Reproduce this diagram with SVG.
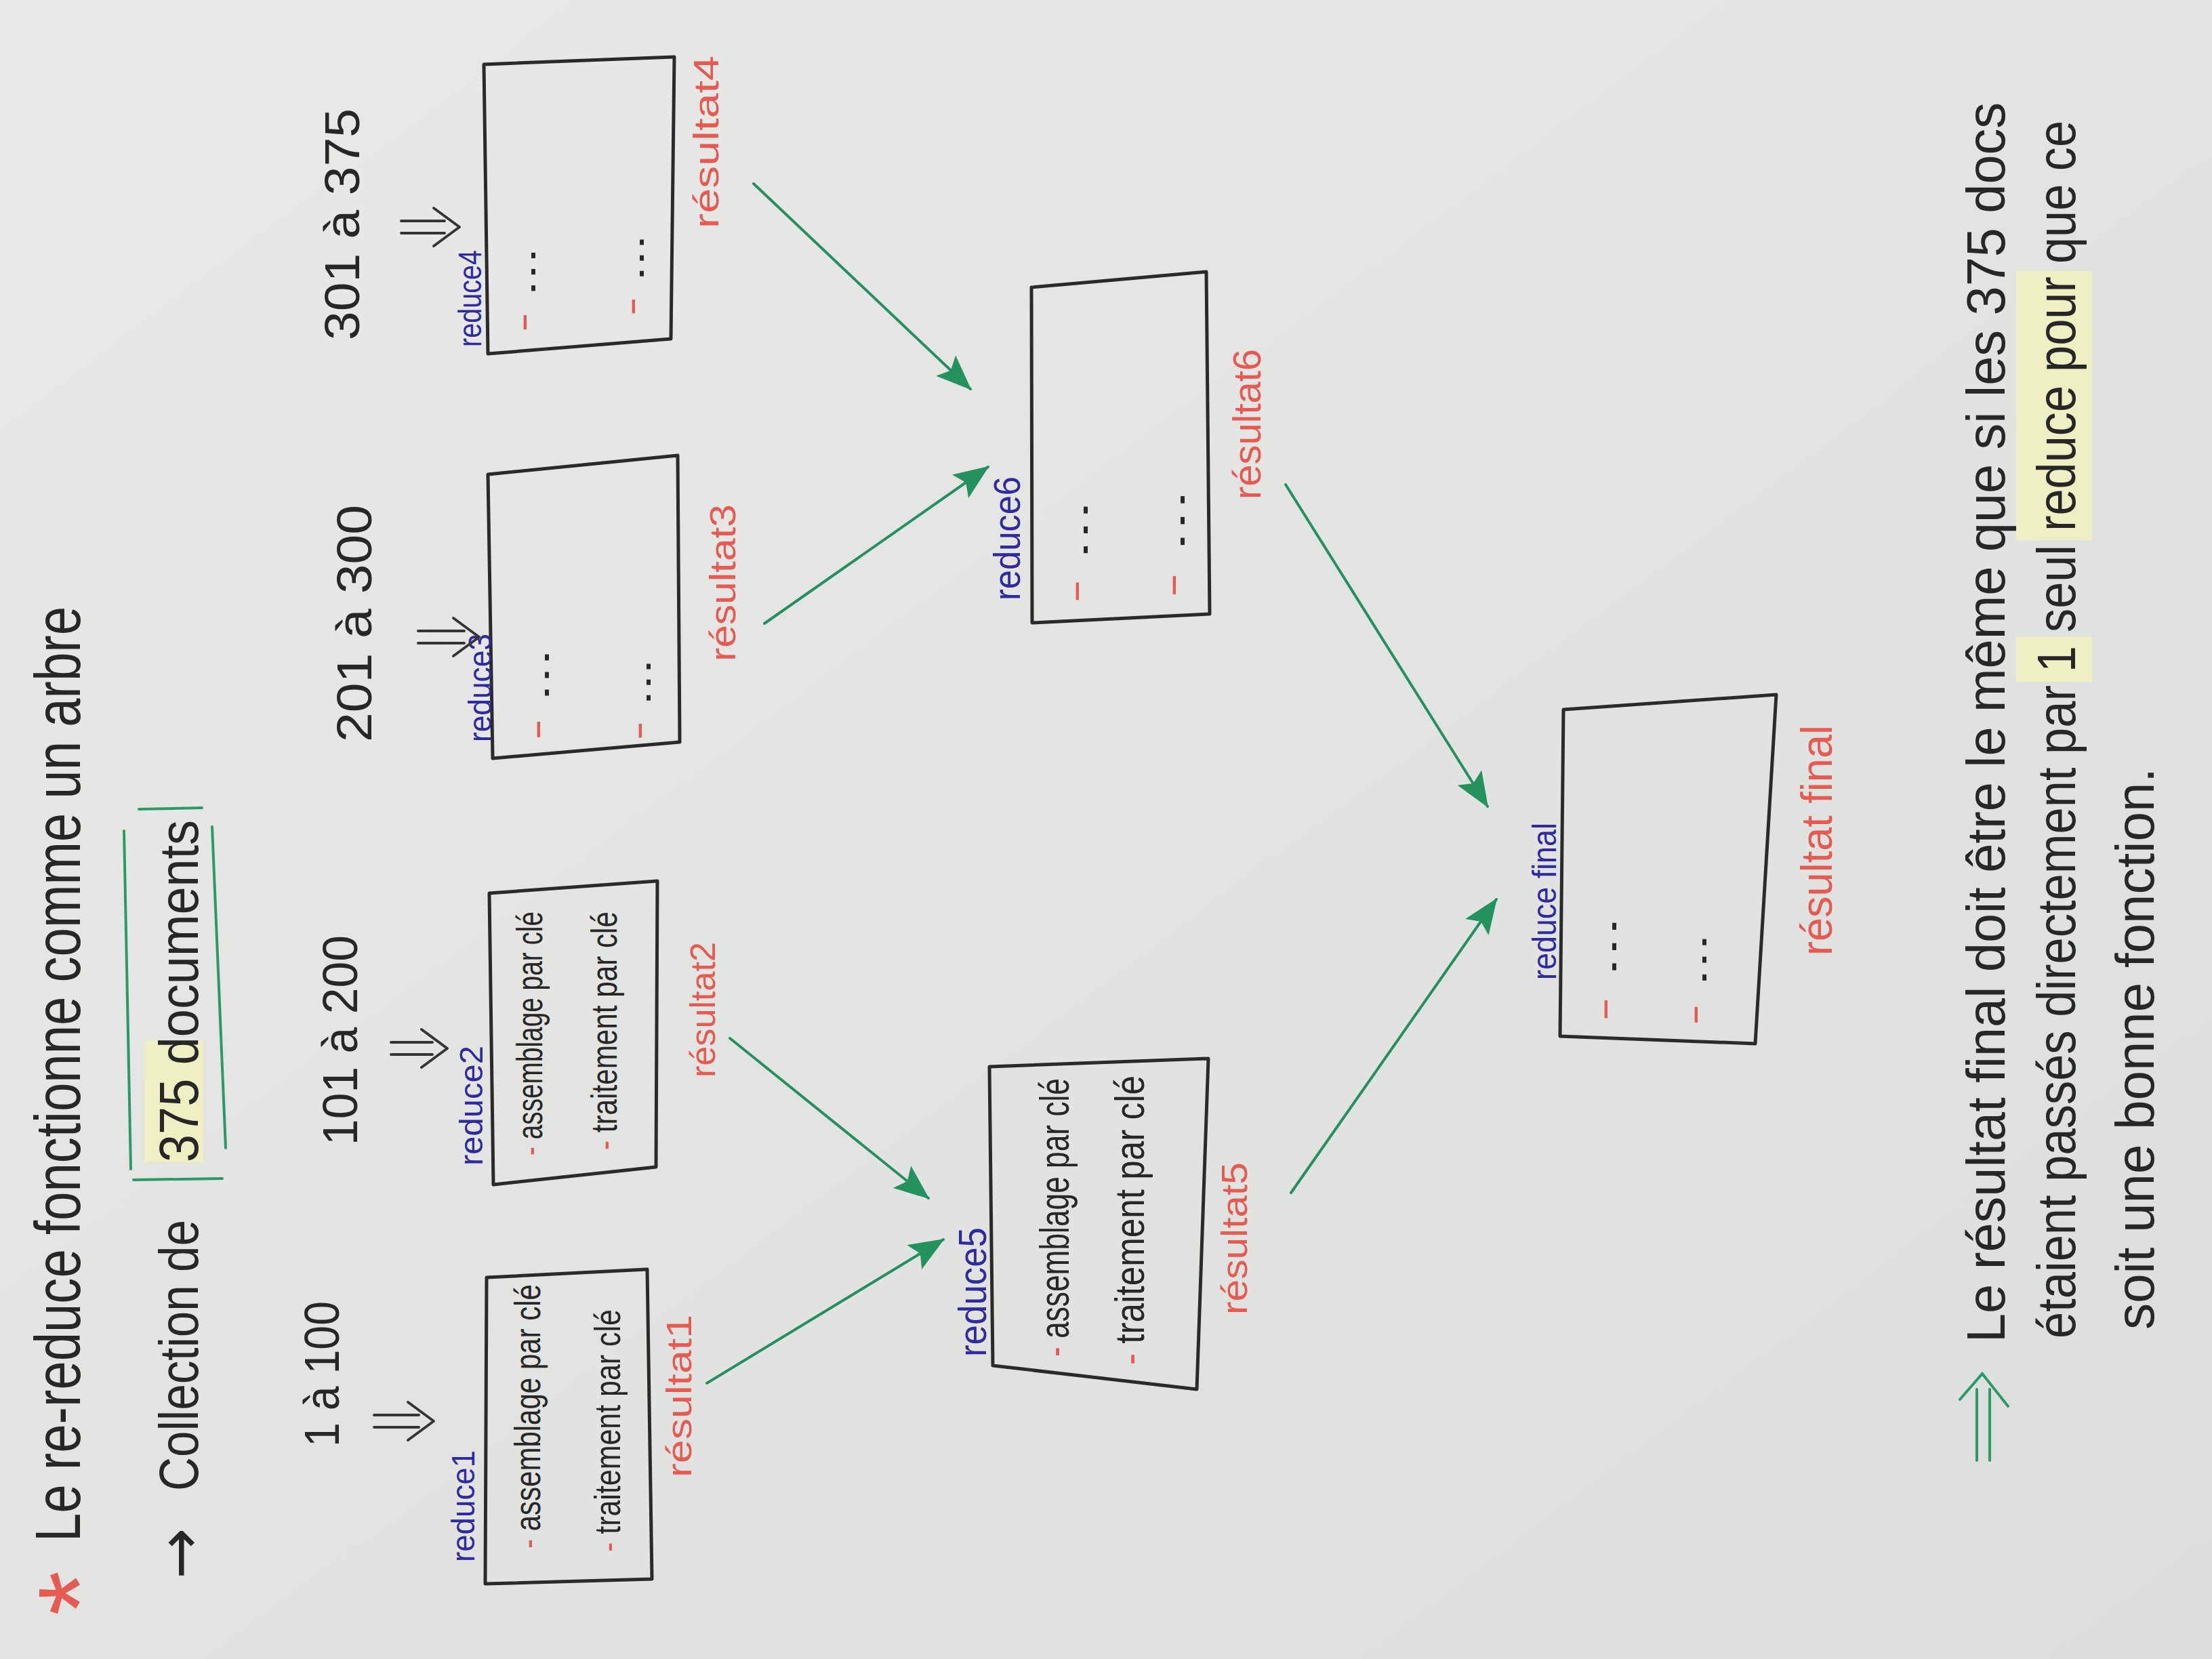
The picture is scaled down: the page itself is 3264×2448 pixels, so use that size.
<svg xmlns="http://www.w3.org/2000/svg" width="3264" height="2448" viewBox="0 0 3264 2448">
<defs>
<linearGradient id="paper" x1="0" y1="0" x2="1" y2="1">
<stop offset="0" stop-color="#e9eae8"/>
<stop offset="1" stop-color="#dcdedb"/>
</linearGradient>
<marker id="ah" markerUnits="userSpaceOnUse" markerWidth="56" markerHeight="44" refX="50" refY="21" orient="auto">
<path d="M0,0 L52,21 L0,42 L10,21 z" fill="#23925f"/>
</marker>
<style>
.t{font-family:"Liberation Sans",Arial,sans-serif;fill:#272727}
.blue{fill:#2f2aa0}
.red{fill:#e65a52}
.box{fill:none;stroke:#2a2a2a;stroke-width:5;stroke-linejoin:round}
.conn{stroke:#25905f;stroke-width:4;fill:none;stroke-linecap:round}
.dbl{stroke:#353535;stroke-width:4;fill:none;stroke-linecap:round;stroke-linejoin:round}
.grn{stroke:#2c9a68;stroke-width:4;fill:none;stroke-linecap:round}
.hl{fill:#eef0c4}
</style>
</defs>
<rect x="0" y="0" width="3264" height="2448" fill="url(#paper)"/>

<g id="title">
<text class="t red" font-size="170" text-anchor="middle" transform="translate(176,2351) rotate(-90)">*</text>
<text class="t" font-size="95" textLength="1380" lengthAdjust="spacingAndGlyphs" transform="translate(118,2275) rotate(-90)">Le re-reduce fonctionne comme un arbre</text>
</g>

<g id="collection">
<rect class="hl" x="213" y="1536" width="87" height="179"/>
<path class="grn" d="M205,1194 L298,1192 M183,1226 L193,1725 M197,1741 L328,1739 M313,1220 L333,1694"/>
<text class="t" font-size="90" style="font-family:'DejaVu Sans',sans-serif" transform="translate(296,2330) rotate(-90)">→</text>
<text class="t" font-size="82" textLength="400" lengthAdjust="spacingAndGlyphs" transform="translate(292,2200) rotate(-90)">Collection de</text>
<text class="t" font-size="82" textLength="505" lengthAdjust="spacingAndGlyphs" transform="translate(292,1715) rotate(-90)">375 documents</text>
</g>

<g id="range1"><text class="t" font-size="72" textLength="215" lengthAdjust="spacingAndGlyphs" transform="translate(500,2135) rotate(-90)">1 à 100</text></g>
<g id="range2"><text class="t" font-size="72" textLength="310" lengthAdjust="spacingAndGlyphs" transform="translate(527,1690) rotate(-90)">101 à 200</text></g>
<g id="range3"><text class="t" font-size="72" textLength="350" lengthAdjust="spacingAndGlyphs" transform="translate(548,1095) rotate(-90)">201 à 300</text></g>
<g id="range4"><text class="t" font-size="72" textLength="342" lengthAdjust="spacingAndGlyphs" transform="translate(530,502) rotate(-90)">301 à 375</text></g>

<g id="reduce1">
<path class="box" d="M718,1885 L955,1873 L962,2330 L716,2337 Z"/>
<text class="t blue" font-size="48" textLength="165" lengthAdjust="spacingAndGlyphs" transform="translate(700,2305) rotate(-90)">reduce1</text>
<text class="t" font-size="54" textLength="390" lengthAdjust="spacingAndGlyphs" transform="translate(797,2285) rotate(-90)"><tspan class="red">-</tspan> assemblage par clé</text>
<text class="t" font-size="54" textLength="358" lengthAdjust="spacingAndGlyphs" transform="translate(915,2290) rotate(-90)"><tspan class="red">-</tspan> traitement par clé</text>
<text class="t red" font-size="52" textLength="240" lengthAdjust="spacingAndGlyphs" transform="translate(1020,2180) rotate(-90)">résultat1</text>
</g>

<g id="reduce2">
<path class="box" d="M722,1318 L970,1300 L968,1722 L728,1748 Z"/>
<text class="t blue" font-size="48" textLength="177" lengthAdjust="spacingAndGlyphs" transform="translate(712,1720) rotate(-90)">reduce2</text>
<text class="t" font-size="54" textLength="360" lengthAdjust="spacingAndGlyphs" transform="translate(800,1705) rotate(-90)"><tspan class="red">-</tspan> assemblage par clé</text>
<text class="t" font-size="54" textLength="352" lengthAdjust="spacingAndGlyphs" transform="translate(910,1697) rotate(-90)"><tspan class="red">-</tspan> traitement par clé</text>
<text class="t red" font-size="52" textLength="200" lengthAdjust="spacingAndGlyphs" transform="translate(1055,1590) rotate(-90)">résultat2</text>
</g>

<g id="reduce3">
<path class="box" d="M720,700 L1000,672 L1003,1095 L727,1119 Z"/>
<text class="t blue" font-size="48" textLength="160" lengthAdjust="spacingAndGlyphs" transform="translate(725,1095) rotate(-90)">reduce3</text>
<text class="t" font-size="55" textLength="135" lengthAdjust="spacingAndGlyphs" transform="translate(810,1092) rotate(-90)"><tspan class="red">-</tspan> ...</text>
<text class="t" font-size="55" textLength="120" lengthAdjust="spacingAndGlyphs" transform="translate(960,1092) rotate(-90)"><tspan class="red">-</tspan> ...</text>
<text class="t red" font-size="54" textLength="232" lengthAdjust="spacingAndGlyphs" transform="translate(1085,976) rotate(-90)">résultat3</text>
</g>

<g id="reduce4">
<path class="box" d="M714,95 L995,84 L990,500 L720,522 Z"/>
<text class="t blue" font-size="48" textLength="143" lengthAdjust="spacingAndGlyphs" transform="translate(710,512) rotate(-90)">reduce4</text>
<text class="t" font-size="55" textLength="125" lengthAdjust="spacingAndGlyphs" transform="translate(790,490) rotate(-90)"><tspan class="red">-</tspan> ...</text>
<text class="t" font-size="55" textLength="120" lengthAdjust="spacingAndGlyphs" transform="translate(950,466) rotate(-90)"><tspan class="red">-</tspan> ...</text>
<text class="t red" font-size="52" textLength="255" lengthAdjust="spacingAndGlyphs" transform="translate(1060,337) rotate(-90)">résultat4</text>
</g>

<g id="reduce5">
<path class="box" d="M1460,1574 L1783,1562 L1766,2050 L1465,2015 Z"/>
<text class="t blue" font-size="58" textLength="191" lengthAdjust="spacingAndGlyphs" transform="translate(1455,2002) rotate(-90)">reduce5</text>
<text class="t" font-size="62" textLength="411" lengthAdjust="spacingAndGlyphs" transform="translate(1577,2002) rotate(-90)"><tspan class="red">-</tspan> assemblage par clé</text>
<text class="t" font-size="62" textLength="427" lengthAdjust="spacingAndGlyphs" transform="translate(1688,2014) rotate(-90)"><tspan class="red">-</tspan> traitement par clé</text>
<text class="t red" font-size="54" textLength="225" lengthAdjust="spacingAndGlyphs" transform="translate(1840,1940) rotate(-90)">résultat5</text>
</g>

<g id="reduce6">
<path class="box" d="M1522,424 L1780,401 L1785,906 L1523,919 Z"/>
<text class="t blue" font-size="55" textLength="183" lengthAdjust="spacingAndGlyphs" transform="translate(1505,886) rotate(-90)">reduce6</text>
<text class="t" font-size="55" textLength="152" lengthAdjust="spacingAndGlyphs" transform="translate(1605,890) rotate(-90)"><tspan class="red">-</tspan> ...</text>
<text class="t" font-size="55" textLength="160" lengthAdjust="spacingAndGlyphs" transform="translate(1748,882) rotate(-90)"><tspan class="red">-</tspan> ...</text>
<text class="t red" font-size="58" textLength="222" lengthAdjust="spacingAndGlyphs" transform="translate(1860,737) rotate(-90)">résultat6</text>
</g>

<g id="reducefinal">
<path class="box" d="M2307,1047 L2621,1025 L2590,1540 L2302,1529 Z"/>
<text class="t blue" font-size="50" textLength="232" lengthAdjust="spacingAndGlyphs" transform="translate(2296,1446) rotate(-90)">reduce final</text>
<text class="t" font-size="55" textLength="155" lengthAdjust="spacingAndGlyphs" transform="translate(2385,1507) rotate(-90)"><tspan class="red">-</tspan> ...</text>
<text class="t" font-size="55" textLength="136" lengthAdjust="spacingAndGlyphs" transform="translate(2518,1513) rotate(-90)"><tspan class="red">-</tspan> ...</text>
<text class="t red" font-size="64" textLength="340" lengthAdjust="spacingAndGlyphs" transform="translate(2703,1410) rotate(-90)">résultat final</text>
</g>

<g id="connectors">
<path class="dbl" d="M552,2088 L618,2088 M552,2106 L618,2106 M602,2069 L640,2097 L602,2125"/>
<path class="dbl" d="M577,1538 L638,1538 M577,1556 L638,1556 M622,1519 L660,1547 L622,1575"/>
<path class="dbl" d="M617,931 L685,931 M617,949 L685,949 M669,912 L707,940 L669,968"/>
<path class="dbl" d="M592,326 L656,326 M592,344 L656,344 M640,307 L678,335 L640,363"/>
<line class="conn" x1="1043" y1="2041" x2="1392" y2="1829" marker-end="url(#ah)"/>
<line class="conn" x1="1077" y1="1532" x2="1370" y2="1768" marker-end="url(#ah)"/>
<line class="conn" x1="1128" y1="920" x2="1458" y2="689" marker-end="url(#ah)"/>
<line class="conn" x1="1112" y1="271" x2="1432" y2="574" marker-end="url(#ah)"/>
<line class="conn" x1="1905" y1="1760" x2="2208" y2="1327" marker-end="url(#ah)"/>
<line class="conn" x1="1897" y1="715" x2="2195" y2="1190" marker-end="url(#ah)"/>
</g>

<g id="conclusion">
<rect class="hl" x="2975" y="940" width="112" height="66"/>
<rect class="hl" x="2975" y="555" width="112" height="242"/>
<rect class="hl" x="2975" y="400" width="112" height="155"/>
<path class="grn" d="M2917,2155 L2917,2050 M2936,2155 L2936,2050 M2892,2065 L2925,2027 L2963,2075"/>
<text class="t" font-size="80" textLength="1830" lengthAdjust="spacingAndGlyphs" transform="translate(2958,1981) rotate(-90)">Le résultat final doit être le même que si les 375 docs</text>
<text class="t" font-size="80" textLength="964" lengthAdjust="spacingAndGlyphs" transform="translate(3062,1975) rotate(-90)">étaient passés directement par</text>
<text class="t" font-size="80" textLength="39" lengthAdjust="spacingAndGlyphs" transform="translate(3062,992) rotate(-90)">1</text>
<text class="t" font-size="80" textLength="129" lengthAdjust="spacingAndGlyphs" transform="translate(3062,933) rotate(-90)">seul</text>
<text class="t" font-size="80" textLength="215" lengthAdjust="spacingAndGlyphs" transform="translate(3062,784) rotate(-90)">reduce</text>
<text class="t" font-size="80" textLength="141" lengthAdjust="spacingAndGlyphs" transform="translate(3062,549) rotate(-90)">pour</text>
<text class="t" font-size="80" textLength="211" lengthAdjust="spacingAndGlyphs" transform="translate(3062,389) rotate(-90)">que ce</text>
<text class="t" font-size="80" textLength="829" lengthAdjust="spacingAndGlyphs" transform="translate(3178,1962) rotate(-90)">soit une bonne fonction.</text>
</g>
</svg>
